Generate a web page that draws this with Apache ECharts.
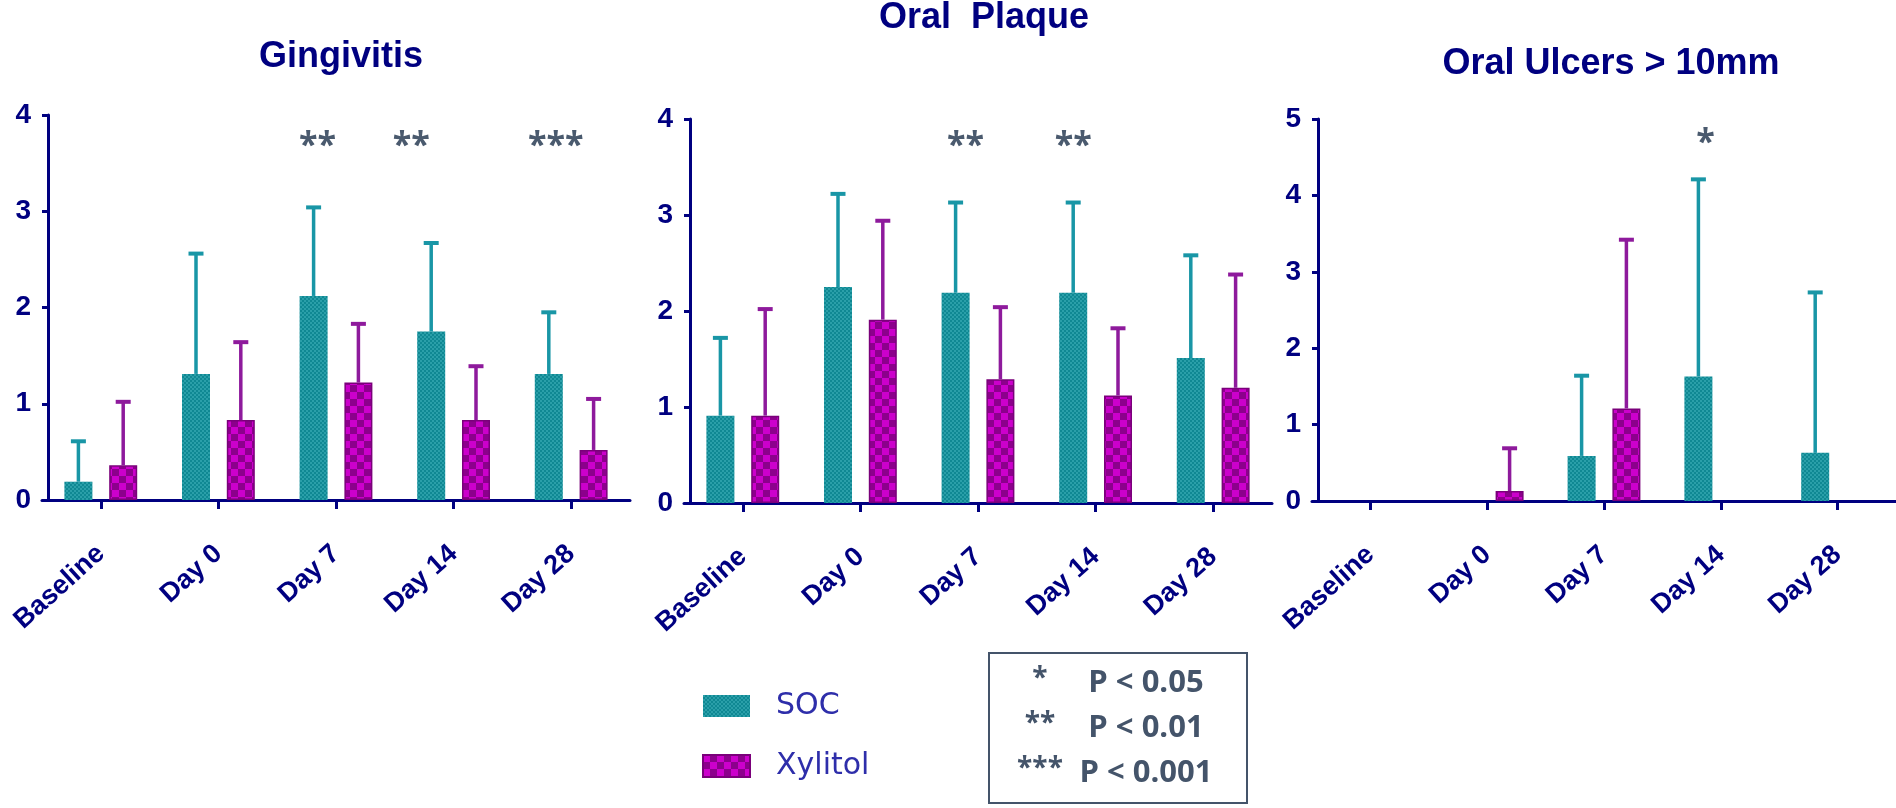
<!DOCTYPE html>
<html>
<head>
<meta charset="utf-8">
<script src="https://cdn.jsdelivr.net/npm/echarts@6/dist/echarts.min.js"></script>
<style>
html,body{margin:0;padding:0;background:#fff;}
#chart{width:1896px;height:808px;}
</style>
</head>
<body>
<div id="chart"></div>
<script>
// ---------- data ----------
const categories = ['Baseline', 'Day 0', 'Day 7', 'Day 14', 'Day 28'];

const gingivitisSOC     = [0.19, 1.31, 2.12, 1.75, 1.31];
const gingivitisSOC_SD  = [0.42, 1.25, 0.92, 0.92, 0.64];
const gingivitisXyl     = [0.36, 0.83, 1.22, 0.83, 0.52];
const gingivitisXyl_SD  = [0.66, 0.81, 0.61, 0.56, 0.53];
const gingivitisSig     = ['', '', '**', '**', '***'];

const plaqueSOC     = [0.91, 2.25, 2.19, 2.19, 1.51];
const plaqueSOC_SD  = [0.81, 0.97, 0.94, 0.94, 1.07];
const plaqueXyl     = [0.91, 1.91, 1.29, 1.12, 1.20];
const plaqueXyl_SD  = [1.11, 1.03, 0.75, 0.70, 1.18];
const plaqueSig     = ['', '', '**', '**', ''];

const ulcersSOC     = [0, 0, 0.59, 1.63, 0.63];
const ulcersSOC_SD  = [0, 0, 1.05, 2.58, 2.10];
const ulcersXyl     = [0, 0.13, 1.21, 0, 0];
const ulcersXyl_SD  = [0, 0.56, 2.21, 0, 0];
const ulcersSig     = ['', '', '', '*', ''];

const yTicksGP = [0, 1, 2, 3, 4];
const yTicksU  = [0, 1, 2, 3, 4, 5];

const titles = ['Gingivitis', 'Oral  Plaque', 'Oral Ulcers > 10mm'];
const seriesNames = ['SOC', 'Xylitol'];
const legendNotes = [['*', 'P < 0.05'], ['**', 'P < 0.01'], ['***', 'P < 0.001']];

// ---------- styles ----------
const NAVY = '#000080';
const BAR_W = 28;
const BAR_GAP = 0.6;
const SHIFT = BAR_W * (1 + BAR_GAP) / 2;

function makePattern(size, cell, base, light) {
  const c = document.createElement('canvas');
  c.width = size; c.height = size;
  const g = c.getContext('2d');
  g.fillStyle = base; g.fillRect(0, 0, size, size);
  g.fillStyle = light;
  for (let y = 0; y < size; y += cell) {
    for (let x = 0; x < size; x += cell) {
      if (((x / cell) + (y / cell)) % 2 === 0) g.fillRect(x, y, cell, cell);
    }
  }
  return { image: c, repeat: 'repeat' };
}
const socFill = makePattern(4, 2, '#0f8893', '#2a9fa9');
const xylFill = makePattern(14, 7, '#8c008c', '#cc00cc');
const SOC_ERR = '#1996a6';
const XYL_ERR = '#8e1a9c';
const SIG_COLOR = '#4a5a6e';

const panels = [
  { title: titles[0], tx: 336, ty: 52, left: 42, top: 115, height: 385, max: 4, ticks: yTicksGP,
    soc: gingivitisSOC, socSD: gingivitisSOC_SD, xyl: gingivitisXyl, xylSD: gingivitisXyl_SD,
    sig: gingivitisSig, sigY: 3.67, sigDx: [0, 0, 4, -20, 7] },
  { title: titles[1], tx: 979, ty: 13, left: 684, top: 119, height: 384, max: 4, ticks: yTicksGP,
    soc: plaqueSOC, socSD: plaqueSOC_SD, xyl: plaqueXyl, xylSD: plaqueXyl_SD,
    sig: plaqueSig, sigY: 3.72, sigDx: [0, 0, 10, 0, 0] },
  { title: titles[2], tx: 1606, ty: 59, left: 1312, top: 119, height: 382, max: 5, ticks: yTicksU,
    soc: ulcersSOC, socSD: ulcersSOC_SD, xyl: ulcersXyl, xylSD: ulcersXyl_SD,
    sig: ulcersSig, sigY: 4.68, sigDx: [0, 0, 0, 7, 0] }
];
const GRID_W = 588;

function errRender(shift, color) {
  return function (params, api) {
    const i = api.value(0), mean = api.value(1), top = api.value(2);
    if (!(top > mean)) return;
    const p0 = api.coord([i, mean]);
    const p1 = api.coord([i, top]);
    const x = p0[0] + shift;
    return {
      type: 'group',
      children: [
        { type: 'line', shape: { x1: x, y1: p0[1], x2: x, y2: p1[1] + 1 }, style: { stroke: color, lineWidth: 3.5 } },
        { type: 'line', shape: { x1: x - 7.5, y1: p1[1], x2: x + 7.5, y2: p1[1] }, style: { stroke: color, lineWidth: 4 } }
      ]
    };
  };
}
const sigTexts = {};
function sigRender(dxArr) {
  return function (params, api) {
    const i = api.value(0);
    const txt = sigTexts[params.seriesIndex][i];
    if (!txt) return;
    const p = api.coord([i, api.value(1)]);
    return {
      type: 'text',
      x: p[0] - SHIFT + dxArr[i], y: p[1],
      style: { text: txt, fill: SIG_COLOR, font: 'bold 34px "Open Sans"', textAlign: 'center', textVerticalAlign: 'middle' }
    };
  };
}
function barData(arr) {
  return arr.map(v => (v === 0 ? { value: v, itemStyle: { borderWidth: 0 } } : v));
}

const option = {
  animation: false,
  backgroundColor: '#ffffff',
  title: panels.map(p => ({
    text: p.title, left: p.tx, top: p.ty, textAlign: 'center', textVerticalAlign: 'middle',
    textStyle: { fontFamily: 'Liberation Sans', fontWeight: 'bold', fontSize: 36, color: NAVY }
  })),
  grid: panels.map(p => ({ left: p.left, top: p.top, width: GRID_W, height: p.height, containLabel: false })),
  xAxis: panels.map((p, k) => ({
    type: 'category', gridIndex: k, data: categories,
    axisLine: { show: true, lineStyle: { color: NAVY, width: 3 } },
    axisTick: { show: true, alignWithLabel: true, length: 9, lineStyle: { color: NAVY, width: 3 } },
    axisLabel: { interval: 0, rotate: 42, margin: 50, color: NAVY, fontFamily: 'Liberation Sans',
                 fontWeight: 'bold', fontSize: 27 },
    splitLine: { show: false }
  })),
  yAxis: panels.map((p, k) => ({
    type: 'value', gridIndex: k, min: 0, max: p.max, interval: 1, offset: -6,
    axisLine: { show: true, lineStyle: { color: NAVY, width: 3 } },
    axisTick: { show: true, length: 6, lineStyle: { color: NAVY, width: 3 } },
    axisLabel: { margin: 17, color: NAVY, fontFamily: 'Liberation Sans', fontWeight: 'bold', fontSize: 28,
                 formatter: v => (p.ticks.indexOf(v) >= 0 ? String(v) : '') },
    splitLine: { show: false }
  })),
  legend: {
    data: seriesNames, orient: 'vertical', left: 697, top: 686, itemWidth: 47, itemHeight: 22, itemGap: 30,
    icon: 'rect',
    textStyle: { fontFamily: 'DejaVu Sans', fontSize: 30, color: '#2e2eaa', padding: [0, 0, 0, 21] }
  },
  series: [],
  graphic: [
    { type: 'rect', shape: { x: 989, y: 653, width: 258, height: 150 },
      style: { fill: 'none', stroke: '#44546a', lineWidth: 2 } }
  ]
};

legendNotes.forEach((n, r) => {
  const y = 683 + r * 45;
  option.graphic.push({ type: 'text', x: 1040, y: y - 4,
    style: { text: n[0], fill: '#44546a', font: 'bold 28px "Open Sans"', textAlign: 'center', textVerticalAlign: 'middle' } });
  option.graphic.push({ type: 'text', x: 1146, y: y,
    style: { text: n[1], fill: '#44546a', font: 'bold 31px "Open Sans"', textAlign: 'center', textVerticalAlign: 'middle' } });
});

panels.forEach((p, k) => {
  option.series.push({
    name: 'SOC', type: 'bar', xAxisIndex: k, yAxisIndex: k, data: barData(p.soc),
    barWidth: BAR_W, barGap: (BAR_GAP * 100) + '%',
    itemStyle: { color: socFill, borderColor: '#0c7f8a', borderWidth: 0 }
  });
  option.series.push({
    name: 'Xylitol', type: 'bar', xAxisIndex: k, yAxisIndex: k, data: barData(p.xyl),
    barWidth: BAR_W, barGap: (BAR_GAP * 100) + '%',
    itemStyle: { color: xylFill, borderColor: '#7a007a', borderWidth: 1.5 }
  });
  option.series.push({
    type: 'custom', xAxisIndex: k, yAxisIndex: k, silent: true, z: 3,
    renderItem: errRender(-SHIFT, SOC_ERR),
    data: p.soc.map((v, i) => [i, v, v + p.socSD[i]])
  });
  option.series.push({
    type: 'custom', xAxisIndex: k, yAxisIndex: k, silent: true, z: 3,
    renderItem: errRender(SHIFT, XYL_ERR),
    data: p.xyl.map((v, i) => [i, v, v + p.xylSD[i]])
  });
  sigTexts[option.series.length] = p.sig;
  option.series.push({
    type: 'custom', xAxisIndex: k, yAxisIndex: k, silent: true, z: 4,
    renderItem: sigRender(p.sigDx),
    data: p.sig.map((s, i) => [i, p.sigY])
  });
});

const chart = echarts.init(document.getElementById('chart'), null, { renderer: 'canvas' });
chart.setOption(option);
</script>
</body>
</html>
